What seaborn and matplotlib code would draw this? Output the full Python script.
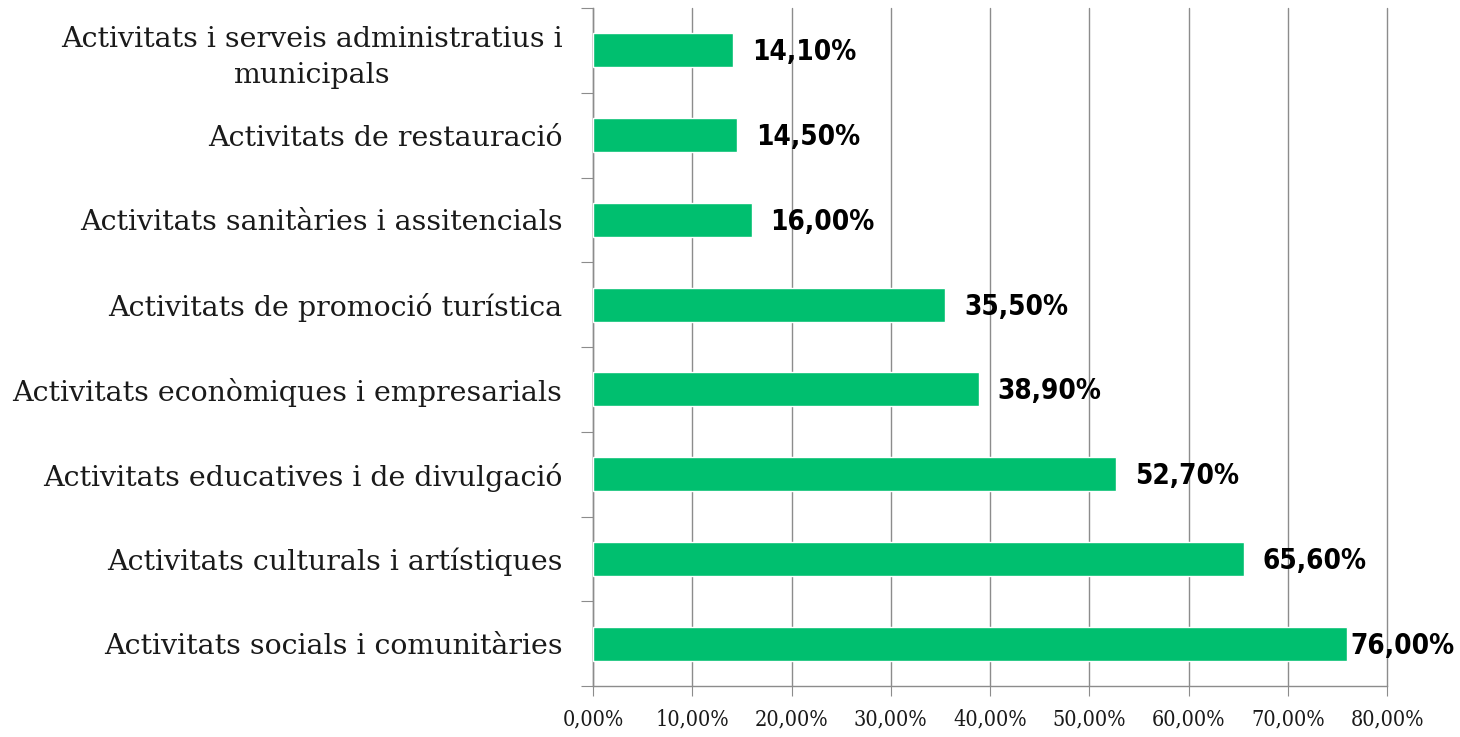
import matplotlib
matplotlib.use("Agg")
import matplotlib.pyplot as plt
import numpy as np
import pandas as pd
import seaborn as sns

# Data
categories = [
    "Activitats i serveis administratius i\nmunicipals",
    "Activitats de restauració",
    "Activitats sanitàries i assitencials",
    "Activitats de promoció turística",
    "Activitats econòmiques i empresarials",
    "Activitats educatives i de divulgació",
    "Activitats culturals i artístiques",
    "Activitats socials i comunitàries",
]
values = [14.10, 14.50, 16.00, 35.50, 38.90, 52.70, 65.60, 76.00]
x_ticks = [0, 10, 20, 30, 40, 50, 60, 70, 80]

df = pd.DataFrame({"cat": categories, "val": values})

sns.set_style("white")
plt.rcParams["font.family"] = ["DejaVu Serif"]

fig = plt.figure(figsize=(14.6, 7.37), dpi=100)
ax = fig.add_axes([593 / 1460, 1 - 686 / 737, (1387 - 593) / 1460, (686 - 8) / 737])

sns.barplot(data=df, x="val", y="cat", orient="h", color="#00BF6F",
            saturation=1, width=0.4, ax=ax, zorder=3)

ax.set_xlim(0, 80)
ax.set_ylim(len(categories) - 0.5, -0.5)
ax.set_xticks(x_ticks)
ax.set_xticklabels([f"{t:.2f}%".replace(".", ",") for t in x_ticks],
                   fontsize=15.5, fontstretch="condensed", color="#1a1a1a")
ax.set_xlabel("")
ax.set_ylabel("")

ax.grid(axis="x", color="#8c8c8c", linewidth=1, zorder=0)
for gl in ax.get_xgridlines():
    gl.set_clip_on(False)
ax.set_axisbelow(True)
for s in ["top", "right"]:
    ax.spines[s].set_visible(False)
for s in ["left", "bottom"]:
    ax.spines[s].set_color("#8c8c8c")
    ax.spines[s].set_linewidth(1)

ax.tick_params(axis="y", which="major", length=0, pad=22, labelsize=20.5,
               labelcolor="#1a1a1a")
for lab in ax.get_yticklabels():
    lab.set_multialignment("center")
    lab.set_linespacing(1.4)
ax.set_yticks(np.arange(len(categories) + 1) - 0.5, minor=True)
ax.tick_params(axis="y", which="minor", left=True, length=9,
               color="#8c8c8c", width=0.8)
ax.tick_params(axis="x", which="major", bottom=True, length=7.5,
               color="#8c8c8c", width=0.8, pad=8.5)

# value labels
fig.canvas.draw()
for i, v in enumerate(values):
    txt = f"{v:.2f}%".replace(".", ",")
    t = ax.annotate(txt, (v, i), xytext=(13.5, -1.5), textcoords="offset points",
                    ha="left", va="center", fontsize=20, fontweight="bold",
                    family="DejaVu Sans", fontstretch="condensed",
                    color="black", zorder=5)
    bb = t.get_window_extent(fig.canvas.get_renderer())
    if bb.x1 > 1455:
        t.xyann = (13.5 - (bb.x1 - 1455) * 72 / 100, -1.5)

fig.savefig("out.png", dpi=100)
